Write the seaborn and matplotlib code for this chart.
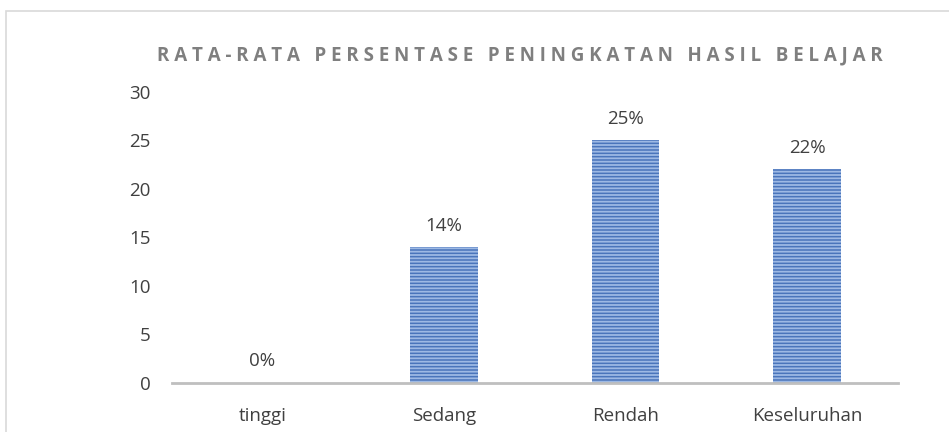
import numpy as np
import pandas as pd
import matplotlib
matplotlib.use("Agg")
import matplotlib.pyplot as plt
import seaborn as sns

sns.set_theme(style="white")
plt.rcParams['font.family'] = ['Open Sans', 'DejaVu Sans']
plt.rcParams['hatch.color'] = '#9db9e4'
plt.rcParams['hatch.linewidth'] = 1.3

categories = ["tinggi", "Sedang", "Rendah", "Keseluruhan"]
values = [0, 14, 25, 22]
labels = ["0%", "14%", "25%", "22%"]
title = "RATA-RATA PERSENTASE PENINGKATAN HASIL BELAJAR"

df = pd.DataFrame({"kategori": categories, "nilai": values})

fig = plt.figure(figsize=(9.49, 4.32), dpi=100)
ax = fig.add_axes([0.181, 0.1134, 0.765, 0.674])

sns.barplot(data=df, x="kategori", y="nilai", color="#4a75bb", width=0.37,
            saturation=1, ax=ax, linewidth=0)
for p in ax.patches:
    p.set_hatch("-----")
    p.set_edgecolor("#9db9e4")
    p.set_linewidth(0)

for i, (v, lab) in enumerate(zip(values, labels)):
    ax.text(i, v + 1.3, lab, ha="center", va="bottom", fontsize=13.5, color="#404040")

ax.set_ylim(0, 30)
ax.set_xlim(-0.5, 3.5)
ax.set_yticks(range(0, 31, 5))
ax.set_xlabel("")
ax.set_ylabel("")
ax.tick_params(axis="y", length=0, labelsize=13.5, labelcolor="#404040", pad=15)
ax.tick_params(axis="x", length=0, labelsize=13.5, labelcolor="#404040", pad=17)
for s in ["top", "right", "left"]:
    ax.spines[s].set_visible(False)
ax.spines["bottom"].set_color("#bfbfbf")
ax.spines["bottom"].set_linewidth(2)

# letter-spaced title, wider gaps between words
spaced = "   ".join(" ".join(list(w)) for w in title.split(" "))
fig.text(0.548, 0.872, spaced, ha="center", va="center", fontsize=13.5,
         fontweight="bold", color="#7f7f7f")

border = plt.Rectangle((0.006, -0.1), 1.2, 1.075, transform=fig.transFigure,
                       fill=False, edgecolor="#d9d9d9", linewidth=1.2)
fig.patches.append(border)

fig.savefig("out.png", dpi=100, facecolor="white")
